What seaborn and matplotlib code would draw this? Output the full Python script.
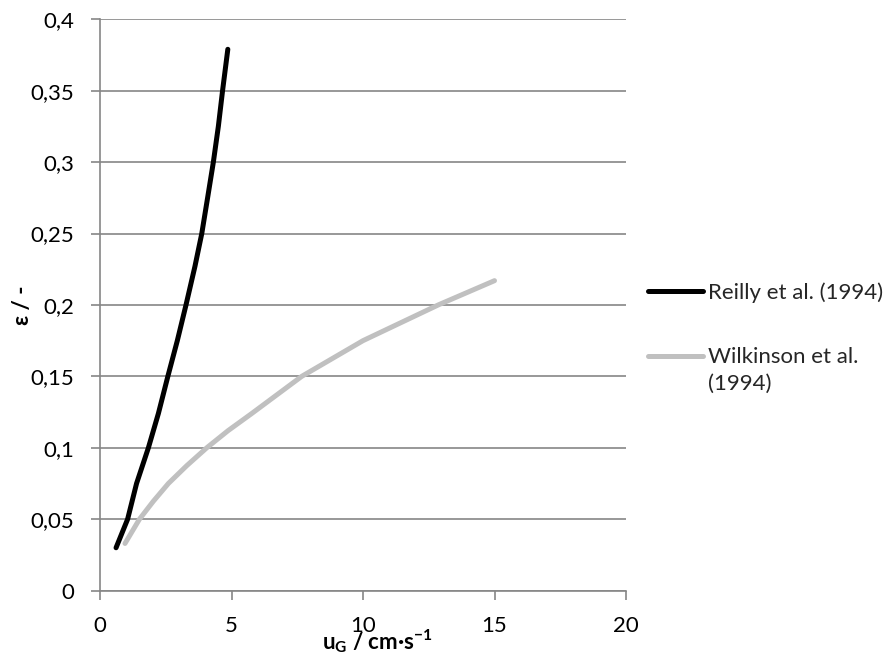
import matplotlib
matplotlib.use("Agg")
import matplotlib.pyplot as plt
import seaborn as sns
import pandas as pd
from matplotlib.ticker import FuncFormatter

# Data
reilly_u = [0.61, 1.05, 1.39, 1.84, 2.22, 2.58, 2.94, 3.27, 3.61, 3.87,
            4.10, 4.31, 4.50, 4.66, 4.86]
reilly_eps = [0.030, 0.050, 0.075, 0.100, 0.124, 0.150, 0.175, 0.200, 0.227, 0.250,
              0.276, 0.300, 0.325, 0.350, 0.379]
wilk_u = [0.95, 1.50, 2.03, 2.60, 3.30, 4.06, 4.87, 5.77, 7.67, 10.0, 12.86, 15.0]
wilk_eps = [0.033, 0.050, 0.0626, 0.075, 0.0875, 0.100, 0.112, 0.124, 0.150, 0.175,
            0.200, 0.217]
series_names = ["Reilly et al. (1994)", "Wilkinson et al.\n(1994)"]
x_ticks = [0, 5, 10, 15, 20]
y_ticks = [0, 0.05, 0.1, 0.15, 0.2, 0.25, 0.3, 0.35, 0.4]

df = pd.DataFrame({
    "u": reilly_u + wilk_u,
    "eps": reilly_eps + wilk_eps,
    "series": [series_names[0]] * len(reilly_u) + [series_names[1]] * len(wilk_u),
})

sns.set_theme(style="white")
plt.rcParams["font.family"] = ["Lato", "DejaVu Sans"]

FS = 16
GRID = "#868686"
fig = plt.figure(figsize=(8.93, 6.57), dpi=100)
ax = fig.add_axes([100 / 893, 1 - 590.6 / 657, 526 / 893, 571.3 / 657])

sns.lineplot(data=df, x="u", y="eps", hue="series",
             palette={series_names[0]: "#000000", series_names[1]: "#c0c0c0"},
             linewidth=3.6, ax=ax, estimator=None, sort=False,
             solid_capstyle="round", solid_joinstyle="round")

ax.set_xlim(0, 20)
ax.set_ylim(0, 0.4)
ax.set_xticks(x_ticks)
ax.set_yticks(y_ticks)
fmt = FuncFormatter(lambda v, p: ("%g" % v).replace(".", ","))
ax.xaxis.set_major_formatter(fmt)
ax.yaxis.set_major_formatter(fmt)

ax.grid(False)
ax.yaxis.grid(True, color=GRID, linewidth=1.2)
ax.set_axisbelow(True)
for s in ["top", "right"]:
    ax.spines[s].set_visible(False)
for s in ["left", "bottom"]:
    ax.spines[s].set_color(GRID)
    ax.spines[s].set_linewidth(1.2)

ax.tick_params(axis="both", which="major", direction="out", length=6.5,
               width=1.2, color=GRID, labelsize=FS, labelcolor="#000000")
ax.tick_params(axis="y", pad=12, left=True)
ax.tick_params(axis="x", pad=12, bottom=True)

ax.set_xlabel(r"u$_\mathregular{G}$ / cm·s$^\mathregular{-1}$", fontsize=FS,
              fontweight="bold", color="#000000")
ax.xaxis.set_label_coords((377 - 100) / 526, (590.6 - 627) / 571.3)
ax.set_ylabel("ε / -", fontsize=FS, fontweight="bold", color="#000000")
ax.yaxis.set_label_coords((33 - 100) / 526, 0.5)

leg = ax.legend(loc="center left", bbox_to_anchor=(1.004, 0.442), frameon=False,
                fontsize=FS, handlelength=2.45, handletextpad=0.25,
                handleheight=1.2, labelspacing=1.9)
for line in leg.get_lines():
    line.set_linewidth(3.6)
for t in leg.get_texts():
    t.set_linespacing(1.45)
try:
    from matplotlib.offsetbox import HPacker
    def _walk(box):
        for ch in box.get_children():
            if isinstance(ch, HPacker):
                ch.align = "top"
            else:
                _walk(ch)
    _walk(leg._legend_handle_box)
except Exception:
    pass

fig.savefig("out.png", dpi=100, facecolor="white")
